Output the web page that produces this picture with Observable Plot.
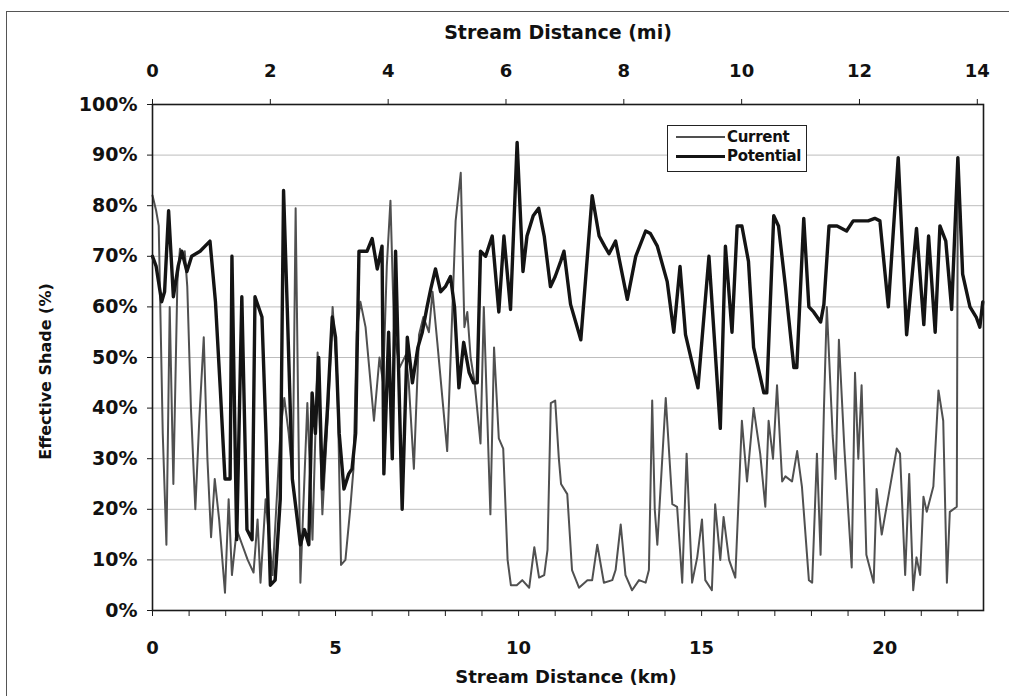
<!DOCTYPE html>
<html>
<head>
<meta charset="utf-8">
<script src="https://cdn.jsdelivr.net/npm/d3@7"></script>
<script src="https://cdn.jsdelivr.net/npm/@observablehq/plot@0.6"></script>
<style>
  html, body { margin: 0; padding: 0; background: #fff; }
  #wrap { position: relative; width: 1009px; height: 696px; overflow: hidden; font-family: "DejaVu Sans", sans-serif; }
  #outer { position: absolute; left: 6px; top: 11px; width: 1100px; height: 800px; border: 1.5px solid #555; box-sizing: border-box; }
  #legend { position: absolute; left: 667px; top: 125px; width: 140px; height: 47px; border: 1.5px solid #222; background: #fff; box-sizing: border-box; }
  .lrow { position: absolute; left: 0; height: 18px; display: flex; align-items: center; }
  .lline { width: 49px; margin-left: 8px; }
  .ltxt { margin-left: 2px; font-weight: bold; font-size: 15px; color: #111; line-height: 18px; letter-spacing: -0.3px; }
</style>
</head>
<body>
<div id="wrap">
  <div id="outer"></div>
  <div id="chart"></div>
  <div id="legend"></div>
</div>
<script>
// ---- Data ----
const seriesNames = ["Current", "Potential"];

// [stream distance (km), effective shade (%)]
const currentSeries = [
[0.00,82],[0.10,79],[0.17,76],[0.28,35],[0.38,13],[0.47,60],[0.57,25],[0.68,65],[0.75,71.5],[0.82,70],
[0.88,71],[0.95,64],[1.05,40],[1.17,20],[1.28,38],[1.40,54],[1.50,30],[1.60,14.5],[1.70,26],[1.82,18],
[1.98,3.5],[2.08,22],[2.17,7],[2.30,16],[2.45,13],[2.60,10],[2.76,7.5],[2.87,18],[2.95,5.5],[3.09,22],
[3.28,7],[3.50,36],[3.60,42],[3.72,35],[3.83,26],[3.91,79.5],[4.04,5.5],[4.23,41],[4.37,14],[4.51,51],
[4.64,19],[4.80,40],[4.92,60],[5.05,46],[5.15,9],[5.27,10],[5.40,20],[5.49,28],[5.58,55],[5.68,61],
[5.82,56],[6.05,37.5],[6.20,50],[6.30,45],[6.40,68],[6.50,81],[6.60,55],[6.75,48],[6.92,50.5],[7.00,45],
[7.14,28],[7.28,54.5],[7.40,58],[7.55,55],[7.65,63],[7.78,53],[8.05,31.5],[8.28,77],[8.42,86.5],[8.52,56],
[8.60,59],[8.69,50],[8.80,45],[8.96,33],[9.05,60],[9.23,19],[9.33,52],[9.46,34],[9.58,32],[9.70,10],
[9.79,5],[9.95,5],[10.10,6],[10.29,4.5],[10.43,12.5],[10.56,6.5],[10.70,7],[10.79,12],[10.88,41],[11.00,41.5],
[11.10,30],[11.16,25],[11.33,23],[11.46,8],[11.65,4.5],[11.88,6],[12.01,6],[12.15,13],[12.33,5.5],[12.56,6],
[12.65,8],[12.79,17],[12.92,7],[13.10,4],[13.29,6],[13.47,5.5],[13.56,8],[13.65,41.5],[13.72,20],[13.79,13],
[14.02,42],[14.20,21],[14.33,20.5],[14.47,5.5],[14.59,31],[14.74,5.5],[14.88,10.5],[15.01,18],[15.10,6],[15.28,4],
[15.37,21],[15.51,10],[15.60,18.5],[15.75,10],[15.92,6.5],[16.10,37.5],[16.24,25.5],[16.42,40],[16.60,31],[16.74,20.5],
[16.83,37.5],[16.95,30],[17.06,44.5],[17.20,25.5],[17.29,26.5],[17.47,25.5],[17.61,31.5],[17.74,24.5],[17.93,6],[18.02,5.5],
[18.15,31],[18.25,11],[18.34,39.5],[18.42,60],[18.58,34.5],[18.66,26],[18.75,53.5],[18.90,32],[19.10,8.5],[19.19,47],
[19.28,30],[19.37,44.5],[19.50,11],[19.70,5.5],[19.78,24],[19.92,15],[20.33,32],[20.42,31],[20.56,7],[20.67,27],
[20.78,4],[20.87,10.5],[20.97,7],[21.06,22.5],[21.15,19.5],[21.33,24.5],[21.47,43.5],[21.60,37.5],[21.70,5.5],[21.78,19.5],
[21.97,20.5],[22.00,89.5],[22.13,66.5],[22.33,60],[22.50,58],[22.60,56],[22.68,61]
];

const potentialSeries = [
[0.00,70],[0.10,68],[0.25,61],[0.33,63],[0.44,79],[0.57,62],[0.70,68],[0.80,71],[0.94,67],[1.07,70],
[1.30,71],[1.57,73],[1.72,61],[1.85,44],[1.98,26],[2.12,26],[2.17,70],[2.30,14],[2.44,62],[2.58,16],
[2.72,14],[2.80,62],[2.99,58],[3.10,35],[3.22,5],[3.35,6],[3.49,22],[3.58,83],[3.68,60],[3.82,26],
[4.04,13],[4.15,16],[4.27,13],[4.36,43],[4.45,35],[4.54,50],[4.64,24],[4.78,40],[4.91,58],[5.00,54],
[5.10,35],[5.23,24],[5.36,27],[5.45,28],[5.55,35],[5.64,71],[5.86,71],[6.00,73.5],[6.14,67.5],[6.27,72],
[6.32,27],[6.45,55],[6.55,30],[6.64,71],[6.82,20],[6.96,54],[7.10,45],[7.25,52],[7.37,55],[7.50,60],
[7.60,63.5],[7.73,67.5],[7.87,63],[8.00,64],[8.14,66],[8.25,60],[8.37,44],[8.50,53],[8.65,47],[8.77,45],
[8.87,45],[8.96,71],[9.10,70],[9.28,74],[9.46,59],[9.60,74],[9.78,59.5],[9.96,92.5],[10.12,67],[10.23,74],
[10.40,78],[10.55,79.5],[10.70,74],[10.87,64],[11.00,66],[11.15,69],[11.24,71],[11.42,60.5],[11.70,53.5],[12.01,82],
[12.20,74],[12.35,72],[12.47,70.5],[12.65,73],[12.97,61.5],[13.20,70],[13.47,75],[13.60,74.5],[13.79,72],[14.06,65],
[14.24,55],[14.41,68],[14.56,54.5],[14.90,44],[15.20,70],[15.51,36],[15.65,72],[15.83,55],[15.97,76],[16.10,76],
[16.28,69],[16.42,52],[16.70,43],[16.78,43],[16.97,78],[17.10,76],[17.29,64],[17.52,48],[17.60,48],[17.79,77.5],
[17.93,60],[18.06,59],[18.25,57],[18.34,60.5],[18.48,76],[18.70,76],[18.96,75],[19.14,77],[19.55,77],[19.73,77.5],
[19.87,77],[20.10,60],[20.37,89.5],[20.60,54.5],[20.87,75.5],[21.07,56.5],[21.20,74],[21.38,55],[21.51,76],[21.67,73],
[21.83,59.5],[22.00,89.5],[22.13,66.5],[22.33,60],[22.50,58],[22.60,56],[22.68,61]
];

const yTicks = [0, 10, 20, 30, 40, 50, 60, 70, 80, 90, 100];
const kmTicks = [0,1,2,3,4,5,6,7,8,9,10,11,12,13,14,15,16,17,18,19,20,21,22];
const kmLabelEvery = 5;
const mileTicks = [0, 2, 4, 6, 8, 10, 12, 14];
const KM_PER_MILE = 1.609344;

const seriesStyle = {
  Current: { stroke: "#505050", width: 2 },
  Potential: { stroke: "#141414", width: 3.4 }
};

// ---- Build table ----
const rows = [];
currentSeries.forEach(([km, v]) => rows.push({ series: "Current", km, v }));
potentialSeries.forEach(([km, v]) => rows.push({ series: "Potential", km, v }));

const font = "'DejaVu Sans', sans-serif";

const chart = Plot.plot({
  width: 1009,
  height: 696,
  marginLeft: 152,
  marginRight: 26,
  marginTop: 104,
  marginBottom: 86,
  style: { fontFamily: font, fontWeight: "bold", color: "#111", background: "transparent", overflow: "visible" },
  x: { domain: [0, 22.7], axis: null },
  y: { domain: [0, 100], axis: null },
  marks: [
    Plot.gridY(yTicks.filter(d => d > 0 && d < 100), { stroke: "#bdbdbd", strokeOpacity: 1, strokeWidth: 1 }),
    Plot.line(rows.filter(d => d.series === "Current"), {
      x: "km", y: "v", stroke: seriesStyle.Current.stroke, strokeWidth: seriesStyle.Current.width, strokeLinejoin: "round"
    }),
    Plot.line(rows.filter(d => d.series === "Potential"), {
      x: "km", y: "v", stroke: seriesStyle.Potential.stroke, strokeWidth: seriesStyle.Potential.width, strokeLinejoin: "round"
    }),
    Plot.frame({ stroke: "#1a1a1a", strokeWidth: 1.6 }),
    Plot.axisY(yTicks, {
      anchor: "left", tickFormat: d => d + "%", tickSize: 5, tickPadding: 10,
      fontSize: 19, fontWeight: "bold", stroke: "#1a1a1a", label: null
    }),
    Plot.axisX(kmTicks, {
      anchor: "bottom", tickFormat: d => (d % kmLabelEvery === 0 ? String(d) : ""), tickSize: 6, tickPadding: 25,
      fontSize: 18, fontWeight: "bold", stroke: "#1a1a1a", label: null
    }),
    Plot.axisX(mileTicks.map(m => m * KM_PER_MILE), {
      anchor: "top", tickFormat: d => String(Math.round(d / KM_PER_MILE)), tickSize: 6, tickPadding: 22,
      fontSize: 18, fontWeight: "bold", stroke: "#1a1a1a", label: null
    }),
    Plot.text(["Stream Distance (mi)"], { frameAnchor: "top", lineAnchor: "middle", textAnchor: "middle", dy: -72, dx: -10, fontSize: 19, fontWeight: "bold", fill: "#111" }),
    Plot.text(["Stream Distance (km)"], { frameAnchor: "bottom", lineAnchor: "middle", textAnchor: "middle", dy: 67, dx: -2, fontSize: 18, fontWeight: "bold", fill: "#111" }),
    Plot.text(["Effective Shade (%)"], { frameAnchor: "left", lineAnchor: "middle", textAnchor: "middle", dx: -107, dy: 14, rotate: -90, fontSize: 16, fontWeight: "bold", fill: "#111" })
  ]
});
document.getElementById("chart").appendChild(chart);

// ---- Legend ----
const legend = document.getElementById("legend");
seriesNames.forEach((name, i) => {
  const row = document.createElement("div");
  row.className = "lrow";
  row.style.top = (i === 0 ? 2 : 21) + "px";
  const line = document.createElement("div");
  line.className = "lline";
  line.style.borderTop = seriesStyle[name].width + "px solid " + seriesStyle[name].stroke;
  const txt = document.createElement("span");
  txt.className = "ltxt";
  txt.textContent = name;
  row.appendChild(line);
  row.appendChild(txt);
  legend.appendChild(row);
});
</script>
</body>
</html>
